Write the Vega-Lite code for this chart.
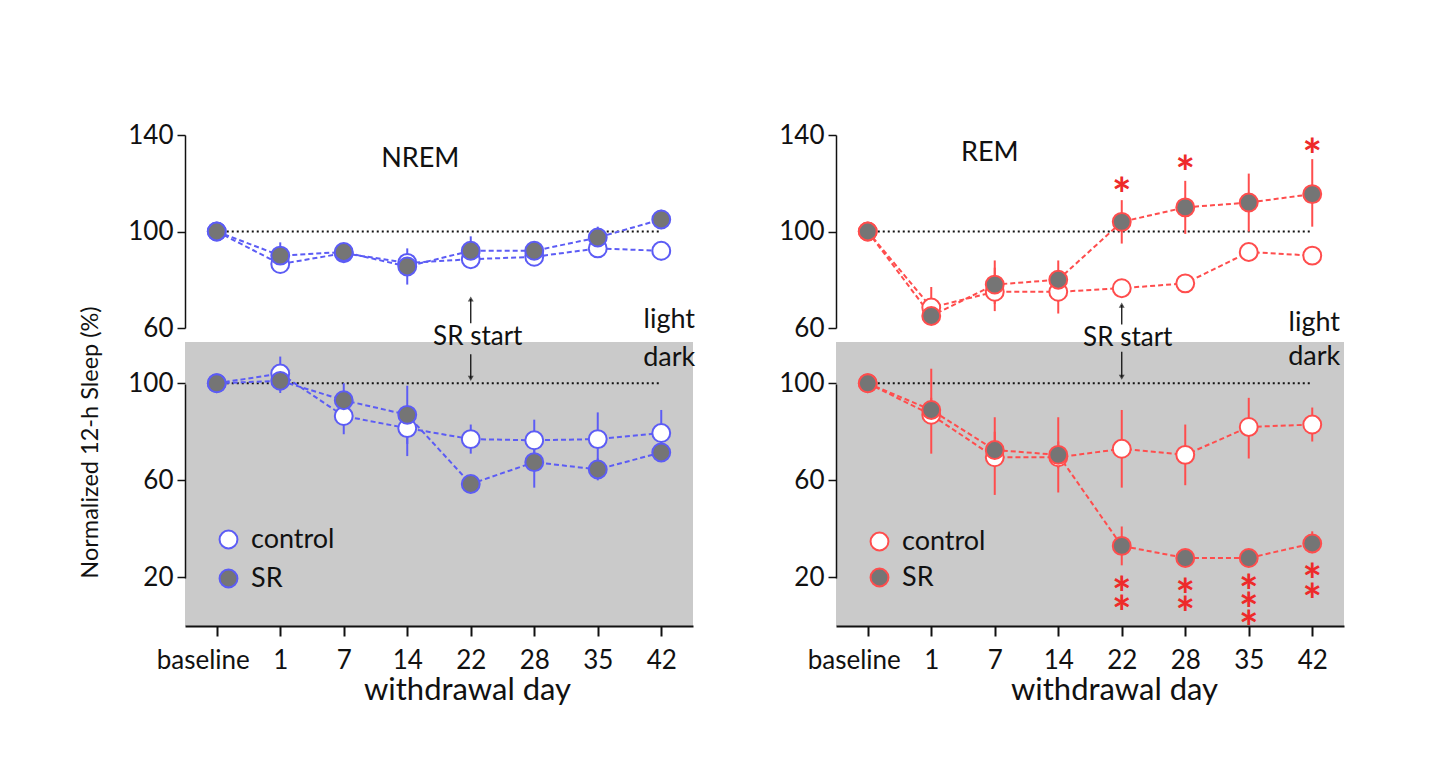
{
  "$schema": "https://vega.github.io/schema/vega-lite/v6.json",
  "background": "white",
  "padding": {"left": 77, "top": 122, "right": 10, "bottom": 10},
  "config": {
    "view": {"stroke": null},
    "font": "Lato",
    "axis": {"labelFont": "Lato", "titleFont": "Lato", "labelColor": "#111", "titleColor": "#111", "domainColor": "#111", "tickColor": "#111", "grid": false}
  },
  "datasets": {
    "sleep": [
      {"sleep": "NREM", "phase": "light", "day": "baseline", "group": "control", "mean": 100, "lo": null, "hi": null},
      {"sleep": "NREM", "phase": "light", "day": "1", "group": "control", "mean": 86.5, "lo": 83, "hi": 90},
      {"sleep": "NREM", "phase": "light", "day": "7", "group": "control", "mean": 91, "lo": 88, "hi": 94},
      {"sleep": "NREM", "phase": "light", "day": "14", "group": "control", "mean": 87, "lo": 83, "hi": 91},
      {"sleep": "NREM", "phase": "light", "day": "22", "group": "control", "mean": 88.5, "lo": 85, "hi": 92},
      {"sleep": "NREM", "phase": "light", "day": "28", "group": "control", "mean": 89.5, "lo": 86, "hi": 93},
      {"sleep": "NREM", "phase": "light", "day": "35", "group": "control", "mean": 93, "lo": 89, "hi": 96},
      {"sleep": "NREM", "phase": "light", "day": "42", "group": "control", "mean": 92, "lo": 88, "hi": 96},
      {"sleep": "NREM", "phase": "light", "day": "baseline", "group": "SR", "mean": 100, "lo": null, "hi": null},
      {"sleep": "NREM", "phase": "light", "day": "1", "group": "SR", "mean": 90, "lo": 85, "hi": 95.5},
      {"sleep": "NREM", "phase": "light", "day": "7", "group": "SR", "mean": 91.5, "lo": 88, "hi": 95},
      {"sleep": "NREM", "phase": "light", "day": "14", "group": "SR", "mean": 85.5, "lo": 78, "hi": 93},
      {"sleep": "NREM", "phase": "light", "day": "22", "group": "SR", "mean": 92, "lo": 86, "hi": 98},
      {"sleep": "NREM", "phase": "light", "day": "28", "group": "SR", "mean": 92, "lo": 89, "hi": 95},
      {"sleep": "NREM", "phase": "light", "day": "35", "group": "SR", "mean": 97.5, "lo": 94, "hi": 102},
      {"sleep": "NREM", "phase": "light", "day": "42", "group": "SR", "mean": 105, "lo": 101, "hi": 109},

      {"sleep": "NREM", "phase": "dark", "day": "baseline", "group": "control", "mean": 100, "lo": null, "hi": null},
      {"sleep": "NREM", "phase": "dark", "day": "1", "group": "control", "mean": 104, "lo": 97, "hi": 111},
      {"sleep": "NREM", "phase": "dark", "day": "7", "group": "control", "mean": 86.5, "lo": 79, "hi": 94},
      {"sleep": "NREM", "phase": "dark", "day": "14", "group": "control", "mean": 81.5, "lo": 75, "hi": 88},
      {"sleep": "NREM", "phase": "dark", "day": "22", "group": "control", "mean": 77, "lo": 71, "hi": 83},
      {"sleep": "NREM", "phase": "dark", "day": "28", "group": "control", "mean": 76.5, "lo": 68, "hi": 85},
      {"sleep": "NREM", "phase": "dark", "day": "35", "group": "control", "mean": 77, "lo": 66, "hi": 88},
      {"sleep": "NREM", "phase": "dark", "day": "42", "group": "control", "mean": 79.5, "lo": 70, "hi": 89},
      {"sleep": "NREM", "phase": "dark", "day": "baseline", "group": "SR", "mean": 100, "lo": null, "hi": null},
      {"sleep": "NREM", "phase": "dark", "day": "1", "group": "SR", "mean": 101, "lo": 96, "hi": 106},
      {"sleep": "NREM", "phase": "dark", "day": "7", "group": "SR", "mean": 93, "lo": 86, "hi": 100},
      {"sleep": "NREM", "phase": "dark", "day": "14", "group": "SR", "mean": 87, "lo": 70, "hi": 99},
      {"sleep": "NREM", "phase": "dark", "day": "22", "group": "SR", "mean": 58.5, "lo": 56, "hi": 61},
      {"sleep": "NREM", "phase": "dark", "day": "28", "group": "SR", "mean": 67.5, "lo": 57, "hi": 78},
      {"sleep": "NREM", "phase": "dark", "day": "35", "group": "SR", "mean": 64.5, "lo": 60, "hi": 69},
      {"sleep": "NREM", "phase": "dark", "day": "42", "group": "SR", "mean": 71.5, "lo": 68, "hi": 75},

      {"sleep": "REM", "phase": "light", "day": "baseline", "group": "control", "mean": 100, "lo": null, "hi": null},
      {"sleep": "REM", "phase": "light", "day": "1", "group": "control", "mean": 68.5, "lo": 64, "hi": 77},
      {"sleep": "REM", "phase": "light", "day": "7", "group": "control", "mean": 75, "lo": 67, "hi": 85},
      {"sleep": "REM", "phase": "light", "day": "14", "group": "control", "mean": 75, "lo": 66, "hi": 84},
      {"sleep": "REM", "phase": "light", "day": "22", "group": "control", "mean": 76.5, "lo": 73, "hi": 80},
      {"sleep": "REM", "phase": "light", "day": "28", "group": "control", "mean": 78.5, "lo": 75, "hi": 82},
      {"sleep": "REM", "phase": "light", "day": "35", "group": "control", "mean": 91.5, "lo": 89, "hi": 94},
      {"sleep": "REM", "phase": "light", "day": "42", "group": "control", "mean": 90, "lo": 87, "hi": 93},
      {"sleep": "REM", "phase": "light", "day": "baseline", "group": "SR", "mean": 100, "lo": null, "hi": null},
      {"sleep": "REM", "phase": "light", "day": "1", "group": "SR", "mean": 65, "lo": 62, "hi": 68},
      {"sleep": "REM", "phase": "light", "day": "7", "group": "SR", "mean": 78, "lo": 70, "hi": 88},
      {"sleep": "REM", "phase": "light", "day": "14", "group": "SR", "mean": 80, "lo": 71, "hi": 88},
      {"sleep": "REM", "phase": "light", "day": "22", "group": "SR", "mean": 104, "lo": 95, "hi": 113},
      {"sleep": "REM", "phase": "light", "day": "28", "group": "SR", "mean": 110, "lo": 99, "hi": 121},
      {"sleep": "REM", "phase": "light", "day": "35", "group": "SR", "mean": 112, "lo": 100, "hi": 124},
      {"sleep": "REM", "phase": "light", "day": "42", "group": "SR", "mean": 115.5, "lo": 102, "hi": 130},

      {"sleep": "REM", "phase": "dark", "day": "baseline", "group": "control", "mean": 100, "lo": null, "hi": null},
      {"sleep": "REM", "phase": "dark", "day": "1", "group": "control", "mean": 87, "lo": 71, "hi": 106},
      {"sleep": "REM", "phase": "dark", "day": "7", "group": "control", "mean": 69.5, "lo": 54, "hi": 86},
      {"sleep": "REM", "phase": "dark", "day": "14", "group": "control", "mean": 69.5, "lo": 55, "hi": 86},
      {"sleep": "REM", "phase": "dark", "day": "22", "group": "control", "mean": 73, "lo": 57, "hi": 89},
      {"sleep": "REM", "phase": "dark", "day": "28", "group": "control", "mean": 70.5, "lo": 58, "hi": 83},
      {"sleep": "REM", "phase": "dark", "day": "35", "group": "control", "mean": 82, "lo": 69, "hi": 94},
      {"sleep": "REM", "phase": "dark", "day": "42", "group": "control", "mean": 83, "lo": 76, "hi": 90},
      {"sleep": "REM", "phase": "dark", "day": "baseline", "group": "SR", "mean": 100, "lo": null, "hi": null},
      {"sleep": "REM", "phase": "dark", "day": "1", "group": "SR", "mean": 89, "lo": 84, "hi": 94},
      {"sleep": "REM", "phase": "dark", "day": "7", "group": "SR", "mean": 72.5, "lo": 66, "hi": 80},
      {"sleep": "REM", "phase": "dark", "day": "14", "group": "SR", "mean": 70.5, "lo": 65, "hi": 76},
      {"sleep": "REM", "phase": "dark", "day": "22", "group": "SR", "mean": 33, "lo": 25, "hi": 41},
      {"sleep": "REM", "phase": "dark", "day": "28", "group": "SR", "mean": 28, "lo": 26, "hi": 30},
      {"sleep": "REM", "phase": "dark", "day": "35", "group": "SR", "mean": 28, "lo": 26, "hi": 30},
      {"sleep": "REM", "phase": "dark", "day": "42", "group": "SR", "mean": 34, "lo": 30, "hi": 39}
    ],
    "stars": [
      {"sleep": "REM", "phase": "light", "day": "22", "y": 119.5},
      {"sleep": "REM", "phase": "light", "day": "28", "y": 129},
      {"sleep": "REM", "phase": "light", "day": "42", "y": 136},
      {"sleep": "REM", "phase": "dark", "day": "22", "y": 17.8},
      {"sleep": "REM", "phase": "dark", "day": "22", "y": 10},
      {"sleep": "REM", "phase": "dark", "day": "28", "y": 17},
      {"sleep": "REM", "phase": "dark", "day": "28", "y": 9.3},
      {"sleep": "REM", "phase": "dark", "day": "35", "y": 18.6},
      {"sleep": "REM", "phase": "dark", "day": "35", "y": 11},
      {"sleep": "REM", "phase": "dark", "day": "35", "y": 3.7},
      {"sleep": "REM", "phase": "dark", "day": "42", "y": 23},
      {"sleep": "REM", "phase": "dark", "day": "42", "y": 14.8}
    ],
    "notes": [
      {"sleep": "NREM", "phase": "light", "day": "14", "y": 130, "text": "NREM", "size": 27, "dx": 13},
      {"sleep": "NREM", "phase": "dark", "day": "22", "y": 119.1, "text": "SR start", "size": 26, "dx": 7},
      {"sleep": "NREM", "phase": "light", "day": "42", "y": 63.5, "text": "light", "size": 27, "dx": 8},
      {"sleep": "NREM", "phase": "dark", "day": "42", "y": 110.5, "text": "dark", "size": 27, "dx": 8},
      {"sleep": "REM", "phase": "light", "day": "7", "y": 132.5, "text": "REM", "size": 27, "dx": -5},
      {"sleep": "REM", "phase": "dark", "day": "22", "y": 118.6, "text": "SR start", "size": 26, "dx": 6},
      {"sleep": "REM", "phase": "light", "day": "42", "y": 62, "text": "light", "size": 27, "dx": 2},
      {"sleep": "REM", "phase": "dark", "day": "42", "y": 111, "text": "dark", "size": 27, "dx": 2}
    ],
    "arrows": [
      {"sleep": "NREM", "phase": "light", "day": "22", "from": 62, "to": 72, "dir": "up"},
      {"sleep": "NREM", "phase": "dark", "day": "22", "from": 112, "to": 102, "dir": "down"},
      {"sleep": "REM", "phase": "light", "day": "22", "from": 61.5, "to": 69.5, "dir": "up"},
      {"sleep": "REM", "phase": "dark", "day": "22", "from": 113, "to": 102.5, "dir": "down"}
    ],
    "ref": [{"from": "baseline", "to": "42", "level": 100}]
  },
  "hconcat": [
    {
      "vconcat": [
        {
          "width": 508, "height": 193,
          "encoding": {"x": {"field": "day", "type": "ordinal", "scale": {"type": "point", "domain": ["baseline", "1", "7", "14", "22", "28", "35", "42"], "padding": 0.5}, "axis": null}},
          "layer": [
            {"data": {"name": "ref"}, "mark": {"type": "rule", "color": "#111", "strokeDash": [2, 3], "strokeWidth": 2},
             "encoding": {"x": {"field": "from", "type": "ordinal"}, "x2": {"field": "to"}, "y": {"field": "level", "type": "quantitative", "scale": {"domain": [60, 140], "nice": false, "zero": false}}}},
            {"data": {"name": "sleep"}, "transform": [{"filter": "datum.sleep === 'NREM' && datum.phase === 'light' && datum.lo != null"}],
             "mark": {"type": "rule", "color": "#5c5cf5", "strokeWidth": 2},
             "encoding": {"y": {"field": "lo", "type": "quantitative", "scale": {"domain": [60, 140], "nice": false, "zero": false}}, "y2": {"field": "hi"}}},
            {"data": {"name": "sleep"}, "transform": [{"filter": "datum.sleep === 'NREM' && datum.phase === 'light'"}],
             "mark": {"type": "line", "color": "#5c5cf5", "strokeWidth": 2, "strokeDash": [5, 3]},
             "encoding": {"y": {"field": "mean", "type": "quantitative", "scale": {"domain": [60, 140], "nice": false, "zero": false}}, "detail": {"field": "group"}}},
            {"data": {"name": "sleep"}, "transform": [{"filter": "datum.sleep === 'NREM' && datum.phase === 'light'"}],
             "mark": {"type": "circle", "size": 320, "stroke": "#5c5cf5", "strokeWidth": 2, "opacity": 1},
             "encoding": {
               "y": {"field": "mean", "type": "quantitative", "scale": {"domain": [60, 140], "nice": false, "zero": false},
                     "axis": {"values": [60, 100, 140], "title": null, "labelFontSize": 26, "tickSize": 8, "labelPadding": 4, "domainWidth": 1.5, "tickWidth": 1.5}},
               "fill": {"field": "group", "type": "nominal", "scale": {"domain": ["control", "SR"], "range": ["white", "#757575"]}, "legend": null}}},
            {"data": {"name": "notes"}, "transform": [{"filter": "datum.sleep === 'NREM' && datum.phase === 'light'"}],
             "mark": {"type": "text", "baseline": "middle", "align": "center", "color": "#111", "font": "Lato"},
             "encoding": {"y": {"field": "y", "type": "quantitative", "scale": {"domain": [60, 140], "nice": false, "zero": false}},
                          "text": {"field": "text"}, "size": {"field": "size", "type": "quantitative", "scale": null}, "xOffset": {"field": "dx", "type": "quantitative", "scale": null}}},
            {"data": {"name": "arrows"}, "transform": [{"filter": "datum.sleep === 'NREM' && datum.phase === 'light'"}],
             "mark": {"type": "rule", "color": "#111", "strokeWidth": 1.3},
             "encoding": {"y": {"field": "from", "type": "quantitative", "scale": {"domain": [60, 140], "nice": false, "zero": false}}, "y2": {"field": "to"}}},
            {"data": {"name": "arrows"}, "transform": [{"filter": "datum.sleep === 'NREM' && datum.phase === 'light'"}],
             "mark": {"type": "point", "shape": "triangle-up", "filled": true, "color": "#111", "size": 35},
             "encoding": {"y": {"field": "to", "type": "quantitative", "scale": {"domain": [60, 140], "nice": false, "zero": false}}}}
          ]
        },
        {
          "width": 508, "height": 284,
          "view": {"fill": "#cacaca", "stroke": null},
          "encoding": {"x": {"field": "day", "type": "ordinal", "scale": {"type": "point", "domain": ["baseline", "1", "7", "14", "22", "28", "35", "42"], "padding": 0.5},
                             "axis": {"title": "withdrawal day", "labelAngle": 0, "labelFontSize": 26, "titleFontSize": 31, "titleFontWeight": "normal", "tickSize": 10, "labelPadding": 11, "titlePadding": 2, "domainWidth": 2, "tickWidth": 2, "titleX": 282,
                                      "labelOffset": {"condition": {"test": "datum.value === 'baseline'", "value": -14}, "value": 0}}}},
          "layer": [
            {"data": {"name": "ref"}, "mark": {"type": "rule", "color": "#111", "strokeDash": [2, 3], "strokeWidth": 2},
             "encoding": {"x": {"field": "from", "type": "ordinal"}, "x2": {"field": "to"}, "y": {"field": "level", "type": "quantitative", "scale": {"domain": [0, 117], "nice": false, "zero": false}}}},
            {"data": {"name": "sleep"}, "transform": [{"filter": "datum.sleep === 'NREM' && datum.phase === 'dark' && datum.lo != null"}],
             "mark": {"type": "rule", "color": "#5c5cf5", "strokeWidth": 2},
             "encoding": {"y": {"field": "lo", "type": "quantitative", "scale": {"domain": [0, 117], "nice": false, "zero": false}}, "y2": {"field": "hi"}}},
            {"data": {"name": "sleep"}, "transform": [{"filter": "datum.sleep === 'NREM' && datum.phase === 'dark'"}],
             "mark": {"type": "line", "color": "#5c5cf5", "strokeWidth": 2, "strokeDash": [5, 3]},
             "encoding": {"y": {"field": "mean", "type": "quantitative", "scale": {"domain": [0, 117], "nice": false, "zero": false}}, "detail": {"field": "group"}}},
            {"data": {"name": "sleep"}, "transform": [{"filter": "datum.sleep === 'NREM' && datum.phase === 'dark'"}],
             "mark": {"type": "circle", "size": 320, "stroke": "#5c5cf5", "strokeWidth": 2, "opacity": 1},
             "encoding": {
               "y": {"field": "mean", "type": "quantitative", "scale": {"domain": [0, 117], "nice": false, "zero": false},
                     "axis": {"values": [20, 60, 100], "title": "Normalized 12-h Sleep (%)", "titleFontSize": 23.5, "titleFontWeight": "normal", "titleX": -95, "titleY": 100, "titleBaseline": "middle",
                              "labelFontSize": 26, "tickSize": 8, "labelPadding": 4, "domainWidth": 1.5, "tickWidth": 1.5, "domainDash": [0, 48, 194, 400]}},
               "fill": {"field": "group", "type": "nominal", "scale": {"domain": ["control", "SR"], "range": ["white", "#757575"]},
                        "legend": {"orient": "none", "legendX": 30, "legendY": 184, "title": null, "symbolType": "circle", "symbolSize": 320, "symbolStrokeColor": "#5c5cf5", "symbolStrokeWidth": 2, "labelFontSize": 27, "labelFont": "Lato", "labelColor": "#111", "labelOffset": 9, "rowPadding": 11, "padding": 0}}}},
            {"data": {"name": "notes"}, "transform": [{"filter": "datum.sleep === 'NREM' && datum.phase === 'dark'"}],
             "mark": {"type": "text", "baseline": "middle", "align": "center", "color": "#111", "font": "Lato"},
             "encoding": {"y": {"field": "y", "type": "quantitative", "scale": {"domain": [0, 117], "nice": false, "zero": false}},
                          "text": {"field": "text"}, "size": {"field": "size", "type": "quantitative", "scale": null}, "xOffset": {"field": "dx", "type": "quantitative", "scale": null}}},
            {"data": {"name": "arrows"}, "transform": [{"filter": "datum.sleep === 'NREM' && datum.phase === 'dark'"}],
             "mark": {"type": "rule", "color": "#111", "strokeWidth": 1.3},
             "encoding": {"y": {"field": "from", "type": "quantitative", "scale": {"domain": [0, 117], "nice": false, "zero": false}}, "y2": {"field": "to"}}},
            {"data": {"name": "arrows"}, "transform": [{"filter": "datum.sleep === 'NREM' && datum.phase === 'dark'"}],
             "mark": {"type": "point", "shape": "triangle-down", "filled": true, "color": "#111", "size": 35},
             "encoding": {"y": {"field": "to", "type": "quantitative", "scale": {"domain": [0, 117], "nice": false, "zero": false}}}}
          ]
        }
      ],
      "spacing": 14,
      "bounds": "flush",
      "resolve": {"scale": {"fill": "independent"}}
    },
    {
      "vconcat": [
        {
          "width": 508, "height": 193,
          "encoding": {"x": {"field": "day", "type": "ordinal", "scale": {"type": "point", "domain": ["baseline", "1", "7", "14", "22", "28", "35", "42"], "padding": 0.5}, "axis": null}},
          "layer": [
            {"data": {"name": "ref"}, "mark": {"type": "rule", "color": "#111", "strokeDash": [2, 3], "strokeWidth": 2},
             "encoding": {"x": {"field": "from", "type": "ordinal"}, "x2": {"field": "to"}, "y": {"field": "level", "type": "quantitative", "scale": {"domain": [60, 140], "nice": false, "zero": false}}}},
            {"data": {"name": "sleep"}, "transform": [{"filter": "datum.sleep === 'REM' && datum.phase === 'light' && datum.lo != null"}],
             "mark": {"type": "rule", "color": "#ff4d4d", "strokeWidth": 2},
             "encoding": {"y": {"field": "lo", "type": "quantitative", "scale": {"domain": [60, 140], "nice": false, "zero": false}}, "y2": {"field": "hi"}}},
            {"data": {"name": "sleep"}, "transform": [{"filter": "datum.sleep === 'REM' && datum.phase === 'light'"}],
             "mark": {"type": "line", "color": "#ff4d4d", "strokeWidth": 2, "strokeDash": [5, 3]},
             "encoding": {"y": {"field": "mean", "type": "quantitative", "scale": {"domain": [60, 140], "nice": false, "zero": false}}, "detail": {"field": "group"}}},
            {"data": {"name": "sleep"}, "transform": [{"filter": "datum.sleep === 'REM' && datum.phase === 'light'"}],
             "mark": {"type": "circle", "size": 320, "stroke": "#ff4d4d", "strokeWidth": 2, "opacity": 1},
             "encoding": {
               "y": {"field": "mean", "type": "quantitative", "scale": {"domain": [60, 140], "nice": false, "zero": false},
                     "axis": {"values": [60, 100, 140], "title": null, "labelFontSize": 26, "tickSize": 8, "labelPadding": 4, "domainWidth": 1.5, "tickWidth": 1.5}},
               "fill": {"field": "group", "type": "nominal", "scale": {"domain": ["control", "SR"], "range": ["white", "#757575"]}, "legend": null}}},
            {"data": {"name": "stars"}, "transform": [{"filter": "datum.sleep === 'REM' && datum.phase === 'light'"}],
             "mark": {"type": "text", "text": "*", "baseline": "alphabetic", "align": "center", "color": "#ee2a2a", "font": "Lato", "fontSize": 46, "fontWeight": "bold", "dy": 27},
             "encoding": {"y": {"field": "y", "type": "quantitative", "scale": {"domain": [60, 140], "nice": false, "zero": false}}}},
            {"data": {"name": "notes"}, "transform": [{"filter": "datum.sleep === 'REM' && datum.phase === 'light'"}],
             "mark": {"type": "text", "baseline": "middle", "align": "center", "color": "#111", "font": "Lato"},
             "encoding": {"y": {"field": "y", "type": "quantitative", "scale": {"domain": [60, 140], "nice": false, "zero": false}},
                          "text": {"field": "text"}, "size": {"field": "size", "type": "quantitative", "scale": null}, "xOffset": {"field": "dx", "type": "quantitative", "scale": null}}},
            {"data": {"name": "arrows"}, "transform": [{"filter": "datum.sleep === 'REM' && datum.phase === 'light'"}],
             "mark": {"type": "rule", "color": "#111", "strokeWidth": 1.3},
             "encoding": {"y": {"field": "from", "type": "quantitative", "scale": {"domain": [60, 140], "nice": false, "zero": false}}, "y2": {"field": "to"}}},
            {"data": {"name": "arrows"}, "transform": [{"filter": "datum.sleep === 'REM' && datum.phase === 'light'"}],
             "mark": {"type": "point", "shape": "triangle-up", "filled": true, "color": "#111", "size": 35},
             "encoding": {"y": {"field": "to", "type": "quantitative", "scale": {"domain": [60, 140], "nice": false, "zero": false}}}}
          ]
        },
        {
          "width": 508, "height": 284,
          "view": {"fill": "#cacaca", "stroke": null},
          "encoding": {"x": {"field": "day", "type": "ordinal", "scale": {"type": "point", "domain": ["baseline", "1", "7", "14", "22", "28", "35", "42"], "padding": 0.5},
                             "axis": {"title": "withdrawal day", "labelAngle": 0, "labelFontSize": 26, "titleFontSize": 31, "titleFontWeight": "normal", "tickSize": 10, "labelPadding": 11, "titlePadding": 2, "domainWidth": 2, "tickWidth": 2, "titleX": 278,
                                      "labelOffset": {"condition": {"test": "datum.value === 'baseline'", "value": -14}, "value": 0}}}},
          "layer": [
            {"data": {"name": "ref"}, "mark": {"type": "rule", "color": "#111", "strokeDash": [2, 3], "strokeWidth": 2},
             "encoding": {"x": {"field": "from", "type": "ordinal"}, "x2": {"field": "to"}, "y": {"field": "level", "type": "quantitative", "scale": {"domain": [0, 117], "nice": false, "zero": false}}}},
            {"data": {"name": "sleep"}, "transform": [{"filter": "datum.sleep === 'REM' && datum.phase === 'dark' && datum.lo != null"}],
             "mark": {"type": "rule", "color": "#ff4d4d", "strokeWidth": 2},
             "encoding": {"y": {"field": "lo", "type": "quantitative", "scale": {"domain": [0, 117], "nice": false, "zero": false}}, "y2": {"field": "hi"}}},
            {"data": {"name": "sleep"}, "transform": [{"filter": "datum.sleep === 'REM' && datum.phase === 'dark'"}],
             "mark": {"type": "line", "color": "#ff4d4d", "strokeWidth": 2, "strokeDash": [5, 3]},
             "encoding": {"y": {"field": "mean", "type": "quantitative", "scale": {"domain": [0, 117], "nice": false, "zero": false}}, "detail": {"field": "group"}}},
            {"data": {"name": "sleep"}, "transform": [{"filter": "datum.sleep === 'REM' && datum.phase === 'dark'"}],
             "mark": {"type": "circle", "size": 320, "stroke": "#ff4d4d", "strokeWidth": 2, "opacity": 1},
             "encoding": {
               "y": {"field": "mean", "type": "quantitative", "scale": {"domain": [0, 117], "nice": false, "zero": false},
                     "axis": {"values": [20, 60, 100], "title": null, "labelFontSize": 26, "tickSize": 8, "labelPadding": 4, "domainWidth": 1.5, "tickWidth": 1.5, "domainDash": [0, 48, 194, 400]}},
               "fill": {"field": "group", "type": "nominal", "scale": {"domain": ["control", "SR"], "range": ["white", "#757575"]},
                        "legend": {"orient": "none", "legendX": 30, "legendY": 186, "title": null, "symbolType": "circle", "symbolSize": 320, "symbolStrokeColor": "#ff4d4d", "symbolStrokeWidth": 2, "labelFontSize": 27, "labelFont": "Lato", "labelColor": "#111", "labelOffset": 9, "rowPadding": 8, "padding": 0}}}},
            {"data": {"name": "stars"}, "transform": [{"filter": "datum.sleep === 'REM' && datum.phase === 'dark'"}],
             "mark": {"type": "text", "text": "*", "baseline": "alphabetic", "align": "center", "color": "#ee2a2a", "font": "Lato", "fontSize": 46, "fontWeight": "bold", "dy": 27},
             "encoding": {"y": {"field": "y", "type": "quantitative", "scale": {"domain": [0, 117], "nice": false, "zero": false}}}},
            {"data": {"name": "notes"}, "transform": [{"filter": "datum.sleep === 'REM' && datum.phase === 'dark'"}],
             "mark": {"type": "text", "baseline": "middle", "align": "center", "color": "#111", "font": "Lato"},
             "encoding": {"y": {"field": "y", "type": "quantitative", "scale": {"domain": [0, 117], "nice": false, "zero": false}},
                          "text": {"field": "text"}, "size": {"field": "size", "type": "quantitative", "scale": null}, "xOffset": {"field": "dx", "type": "quantitative", "scale": null}}},
            {"data": {"name": "arrows"}, "transform": [{"filter": "datum.sleep === 'REM' && datum.phase === 'dark'"}],
             "mark": {"type": "rule", "color": "#111", "strokeWidth": 1.3},
             "encoding": {"y": {"field": "from", "type": "quantitative", "scale": {"domain": [0, 117], "nice": false, "zero": false}}, "y2": {"field": "to"}}},
            {"data": {"name": "arrows"}, "transform": [{"filter": "datum.sleep === 'REM' && datum.phase === 'dark'"}],
             "mark": {"type": "point", "shape": "triangle-down", "filled": true, "color": "#111", "size": 35},
             "encoding": {"y": {"field": "to", "type": "quantitative", "scale": {"domain": [0, 117], "nice": false, "zero": false}}}}
          ]
        }
      ],
      "spacing": 14,
      "bounds": "flush",
      "resolve": {"scale": {"fill": "independent"}}
    }
  ],
  "spacing": 82,
  "resolve": {"scale": {"fill": "independent"}}
}
